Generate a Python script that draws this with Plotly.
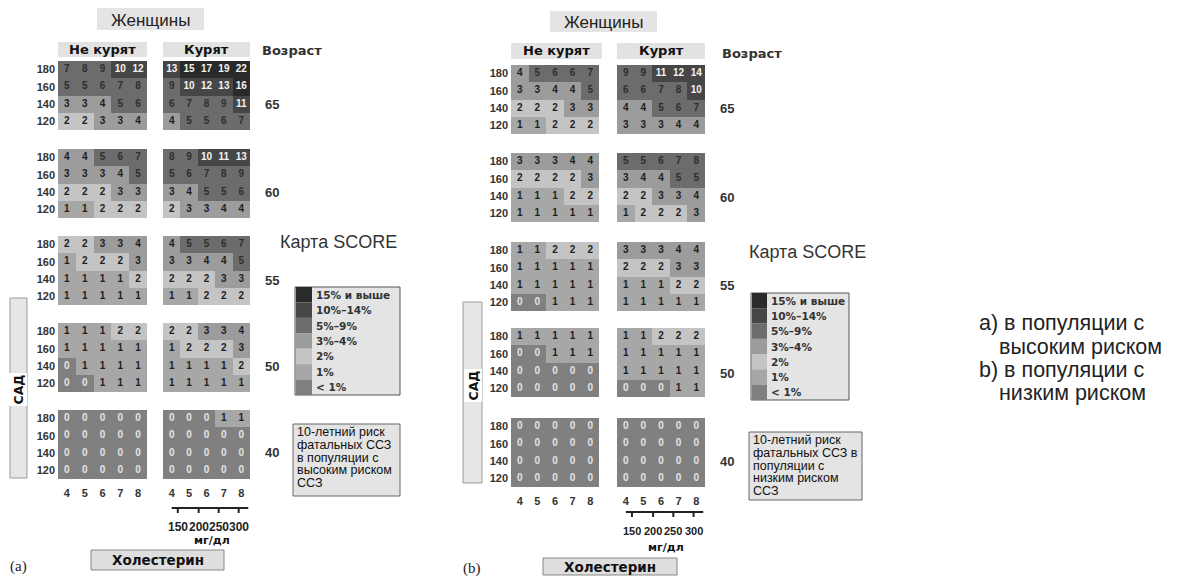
import plotly.graph_objects as go

# ---------------- data ----------------
chol_mmol = [4, 5, 6, 7, 8]
sbp = [180, 160, 140, 120]          # rows as displayed (top -> bottom)
ages = [65, 60, 55, 50, 40]
mgdl_labels = [150, 200, 250, 300]
mgdl_pos = [4.35, 5.55, 6.7, 7.85]  # where the mg/dl ticks sit on the mmol scale

high_nonsmoker = [
    [[7, 8, 9, 10, 12], [5, 5, 6, 7, 8], [3, 3, 4, 5, 6], [2, 2, 3, 3, 4]],
    [[4, 4, 5, 6, 7], [3, 3, 3, 4, 5], [2, 2, 2, 3, 3], [1, 1, 2, 2, 2]],
    [[2, 2, 3, 3, 4], [1, 2, 2, 2, 3], [1, 1, 1, 1, 2], [1, 1, 1, 1, 1]],
    [[1, 1, 1, 2, 2], [1, 1, 1, 1, 1], [0, 1, 1, 1, 1], [0, 0, 1, 1, 1]],
    [[0, 0, 0, 0, 0], [0, 0, 0, 0, 0], [0, 0, 0, 0, 0], [0, 0, 0, 0, 0]],
]
high_smoker = [
    [[13, 15, 17, 19, 22], [9, 10, 12, 13, 16], [6, 7, 8, 9, 11], [4, 5, 5, 6, 7]],
    [[8, 9, 10, 11, 13], [5, 6, 7, 8, 9], [3, 4, 5, 5, 6], [2, 3, 3, 4, 4]],
    [[4, 5, 5, 6, 7], [3, 3, 4, 4, 5], [2, 2, 2, 3, 3], [1, 1, 2, 2, 2]],
    [[2, 2, 3, 3, 4], [1, 2, 2, 2, 3], [1, 1, 1, 1, 2], [1, 1, 1, 1, 1]],
    [[0, 0, 0, 1, 1], [0, 0, 0, 0, 0], [0, 0, 0, 0, 0], [0, 0, 0, 0, 0]],
]
low_nonsmoker = [
    [[4, 5, 6, 6, 7], [3, 3, 4, 4, 5], [2, 2, 2, 3, 3], [1, 1, 2, 2, 2]],
    [[3, 3, 3, 4, 4], [2, 2, 2, 2, 3], [1, 1, 1, 2, 2], [1, 1, 1, 1, 1]],
    [[1, 1, 2, 2, 2], [1, 1, 1, 1, 1], [1, 1, 1, 1, 1], [0, 0, 1, 1, 1]],
    [[1, 1, 1, 1, 1], [0, 0, 1, 1, 1], [0, 0, 0, 0, 0], [0, 0, 0, 0, 0]],
    [[0, 0, 0, 0, 0], [0, 0, 0, 0, 0], [0, 0, 0, 0, 0], [0, 0, 0, 0, 0]],
]
low_smoker = [
    [[9, 9, 11, 12, 14], [6, 6, 7, 8, 10], [4, 4, 5, 6, 7], [3, 3, 3, 4, 4]],
    [[5, 5, 6, 7, 8], [3, 4, 4, 5, 5], [2, 2, 3, 3, 4], [1, 2, 2, 2, 3]],
    [[3, 3, 3, 4, 4], [2, 2, 2, 3, 3], [1, 1, 1, 2, 2], [1, 1, 1, 1, 1]],
    [[1, 1, 2, 2, 2], [1, 1, 1, 1, 1], [1, 1, 1, 1, 1], [0, 0, 0, 1, 1]],
    [[0, 0, 0, 0, 0], [0, 0, 0, 0, 0], [0, 0, 0, 0, 0], [0, 0, 0, 0, 0]],
]

legend_labels = ["15% и выше", "10%–14%", "5%–9%", "3%–4%", "2%", "1%", "< 1%"]
# colours for categories: <1, 1, 2, 3-4, 5-9, 10-14, 15+
cat_colors = ["#808080", "#a7a7a7", "#c4c4c4", "#9c9c9c", "#6c6c6c", "#464646", "#2a2a2a"]

# ---------------- helpers ----------------
W, H = 1177, 579


def fx(x):
    return x / W


def fy(y):
    return 1 - y / H


def cat(v):
    if v < 1:
        return 0
    if v == 1:
        return 1
    if v == 2:
        return 2
    if v <= 4:
        return 3
    if v <= 9:
        return 4
    if v <= 14:
        return 5
    return 6


def txtcol(v):
    if v < 1:
        return "#e4e4e4"
    if v <= 4:
        return "#1e1e1e"
    if v <= 9:
        return "#2e2e2e"
    return "#f2f2f2"


n = len(cat_colors)
colorscale = []
for i, c in enumerate(cat_colors):
    colorscale.append([i / n, c])
    colorscale.append([(i + 1) / n, c])

FONT = "Liberation Sans, Arial, sans-serif"
HEAVY = "DejaVu Sans, Liberation Sans, sans-serif"

panels = [
    dict(ns=high_nonsmoker, s=high_smoker, ns_x=(58, 147), s_x=(163, 250),
         tops=[61, 149, 236, 323, 410], h=69),
    dict(ns=low_nonsmoker, s=low_smoker, ns_x=(511, 599), s_x=(617, 705),
         tops=[65, 153, 242, 328, 418], h=69),
]

fig = go.Figure()
layout = {}
ax = 0
smoker40_axis = {}
for pi, P in enumerate(panels):
    for ai, age in enumerate(ages):
        for si, (grid, xr) in enumerate([(P["ns"][ai], P["ns_x"]), (P["s"][ai], P["s_x"])]):
            ax += 1
            xa = "x" if ax == 1 else f"x{ax}"
            ya = "y" if ax == 1 else f"y{ax}"
            xk = "xaxis" if ax == 1 else f"xaxis{ax}"
            yk = "yaxis" if ax == 1 else f"yaxis{ax}"
            top = P["tops"][ai]
            bot = top + P["h"]
            z = [[cat(v) for v in row] for row in grid]
            fig.add_trace(go.Heatmap(
                x=chol_mmol, y=sbp, z=z, colorscale=colorscale, zmin=-0.5, zmax=n - 0.5,
                showscale=False, hoverinfo="skip", xaxis=xa, yaxis=ya))
            xs, ys, ts, cs = [], [], [], []
            for r, s in enumerate(sbp):
                for c, ch in enumerate(chol_mmol):
                    v = grid[r][c]
                    xs.append(ch)
                    ys.append(s)
                    ts.append(str(v))
                    cs.append(txtcol(v))
            fig.add_trace(go.Scatter(
                x=xs, y=ys, text=ts, mode="text", hoverinfo="skip",
                textfont=dict(family=FONT, size=10, color=cs, weight="bold"),
                xaxis=xa, yaxis=ya, showlegend=False))
            show_x = (age == 40)
            show_y = (si == 0)
            layout[xk] = dict(domain=[fx(xr[0]), fx(xr[1])], anchor=ya, range=[3.5, 8.5],
                              showgrid=False, zeroline=False, showline=False, ticks="",
                              tickvals=chol_mmol, showticklabels=show_x, ticklabelstandoff=6,
                              tickfont=dict(family=FONT, size=11, color="#333", weight="bold"),
                              fixedrange=True)
            layout[yk] = dict(domain=[fy(bot), fy(top)], anchor=xa, range=[110, 190],
                              showgrid=False, zeroline=False, showline=False, ticks="",
                              tickvals=sbp, showticklabels=show_y, ticklabelstandoff=2,
                              tickfont=dict(family=FONT, size=11, color="#333", weight="bold"),
                              fixedrange=True)
            if age == 40 and si == 1:
                smoker40_axis[pi] = xa

fig.update_layout(**layout)

shapes = []
ann = []


def box(x0, y0, x1, y1, fill, line=None, lw=1):
    shapes.append(dict(type="rect", xref="paper", yref="paper", x0=fx(x0), x1=fx(x1),
                       y0=fy(y1), y1=fy(y0), fillcolor=fill,
                       line=dict(color=line or fill, width=lw if line else 0), layer="below"))


def text(x, y, t, size=11, color="#222", bold=False, xanchor="center", family=FONT, angle=0,
         bg=None):
    d = dict(x=fx(x), y=fy(y), xref="paper", yref="paper", text=t, showarrow=False,
             xanchor=xanchor, yanchor="middle", textangle=angle,
             font=dict(family=family, size=size, color=color, weight="bold" if bold else "normal"))
    if bg:
        d["bgcolor"] = bg
    ann.append(d)


geo = [
    dict(wom=(97, 8, 204, 30), ns_hdr=(58, 42, 147, 57), s_hdr=(163, 42, 250, 57),
         sad=(10, 298, 27, 478), sad_y=390, vozr=(292, 50), age_x=272,
         age_y=[104, 193, 280, 366, 452], karta=(338, 242),
         leg=(295, 287, 400, 395), sw=17, note=(293, 424, 400, 496),
         note_lines=["10-летний риск", "фатальных ССЗ", "в популяции с", "высоким риском", "ССЗ"],
         line_y=508, mg_y=527, mgdl_y=540, mg_font=12, chol_box=(91, 550, 224, 570), tag=(8, 566, "(a)")),
    dict(wom=(550, 11, 657, 32), ns_hdr=(511, 43, 602, 59), s_hdr=(617, 43, 705, 59),
         sad=(463, 302, 482, 483), sad_y=385, vozr=(752, 53), age_x=727,
         age_y=[108, 197, 285, 373, 462], karta=(807, 252),
         leg=(751, 293, 849, 400), sw=16, note=(749, 432, 862, 500),
         note_lines=["10-летний риск", "фатальных ССЗ в", "популяции с", "низким риском", "ССЗ"],
         line_y=512, mg_y=531, mgdl_y=547, mg_font=11, chol_box=(543, 558, 677, 575), tag=(461, 568, "(b)")),
]

for pi, G in enumerate(geo):
    x0, y0, x1, y1 = G["wom"]
    box(x0, y0, x1, y1, "#e4e4e4")
    text((x0 + x1) / 2, (y0 + y1) / 2 + 1, "Женщины", size=17, color="#222")
    for key, lab in [("ns_hdr", "Не курят"), ("s_hdr", "Курят")]:
        x0, y0, x1, y1 = G[key]
        box(x0, y0, x1, y1, "#e2e2e2")
        text((x0 + x1) / 2, (y0 + y1) / 2, lab, size=13, color="#111", bold=True, family=HEAVY)
    x0, y0, x1, y1 = G["sad"]
    box(x0, y0, x1, y1, "#e6e6e6", line="#9a9a9a", lw=1)
    text((x0 + x1) / 2, G["sad_y"], "САД", size=12.5, color="#111", bold=True, angle=-90, bg="white",
         family=HEAVY)
    text(G["vozr"][0], G["vozr"][1], "Возраст", size=13, color="#333", bold=True, family=HEAVY)
    for a, yy in zip(ages, G["age_y"]):
        text(G["age_x"], yy, str(a), size=13, color="#333", bold=True)
    text(G["karta"][0], G["karta"][1], "Карта SCORE", size=18, color="#333")
    # legend
    lx0, ly0, lx1, ly1 = G["leg"]
    box(lx0, ly0, lx1, ly1, "#e4e4e4", line="#555", lw=1)
    rh = (ly1 - ly0) / len(legend_labels)
    for k, lab in enumerate(legend_labels):
        col = cat_colors[n - 1 - k]
        shapes.append(dict(type="rect", xref="paper", yref="paper", x0=fx(lx0 + 1), x1=fx(lx0 + G["sw"]),
                           y0=fy(ly0 + (k + 1) * rh), y1=fy(ly0 + k * rh), fillcolor=col,
                           line=dict(width=0)))
        text(lx0 + G["sw"] + 2, ly0 + (k + 0.5) * rh, lab, size=10.5, color="#333", bold=True,
             xanchor="left", family=HEAVY)
    # note box
    nx0, ny0, nx1, ny1 = G["note"]
    box(nx0, ny0, nx1, ny1, "#e4e4e4", line="#666", lw=1)
    for k, ln in enumerate(G["note_lines"]):
        text(nx0 + 2, ny0 + 8 + k * 12.8, ln, size=12.5, color="#111", xanchor="left")
    # mg/dl scale on smoker age-40 grid
    xref = smoker40_axis[pi]
    shapes.append(dict(type="line", xref=xref, yref="paper", x0=chol_mmol[0], x1=8.4,
                       y0=fy(G["line_y"]), y1=fy(G["line_y"]), line=dict(color="#222", width=2)))
    for mp, ml in zip(mgdl_pos, mgdl_labels):
        shapes.append(dict(type="line", xref=xref, yref="paper", x0=mp, x1=mp,
                           y0=fy(G["line_y"]), y1=fy(G["line_y"] + 5), line=dict(color="#222", width=2)))
        ann.append(dict(x=mp, y=fy(G["mg_y"]), xref=xref, yref="paper", text=str(ml), showarrow=False,
                        xanchor="center", yanchor="middle",
                        font=dict(family=FONT, size=G["mg_font"], color="#222", weight="bold")))
    ann.append(dict(x=6.3, y=fy(G["mgdl_y"]), xref=xref, yref="paper", text="мг/дл", showarrow=False,
                    xanchor="center", yanchor="middle",
                    font=dict(family=HEAVY, size=11, color="#111", weight="bold")))
    x0, y0, x1, y1 = G["chol_box"]
    box(x0, y0, x1, y1, "#dedede", line="#888", lw=1)
    text((x0 + x1) / 2, (y0 + y1) / 2, "Холестерин", size=13.5, color="#111", bold=True, family=HEAVY)
    tx, ty, tl = G["tag"]
    text(tx, ty, tl, size=15, color="#222", xanchor="left", family="Liberation Serif, Times New Roman, serif")

# right side explanation
text(977, 323, "a) в популяции с", size=21.5, color="#222", xanchor="left")
text(997, 347, "высоким риском", size=21.5, color="#222", xanchor="left")
text(977, 370, "b) в популяции с", size=21.5, color="#222", xanchor="left")
text(997, 393, "низким риском", size=21.5, color="#222", xanchor="left")

fig.update_layout(width=W, height=H, margin=dict(l=0, r=0, t=0, b=0),
                  paper_bgcolor="white", plot_bgcolor="white", showlegend=False,
                  shapes=shapes, annotations=ann)

fig.write_html("out.html", config={"displayModeBar": False},
               post_script="document.body.style.margin='0px';")
